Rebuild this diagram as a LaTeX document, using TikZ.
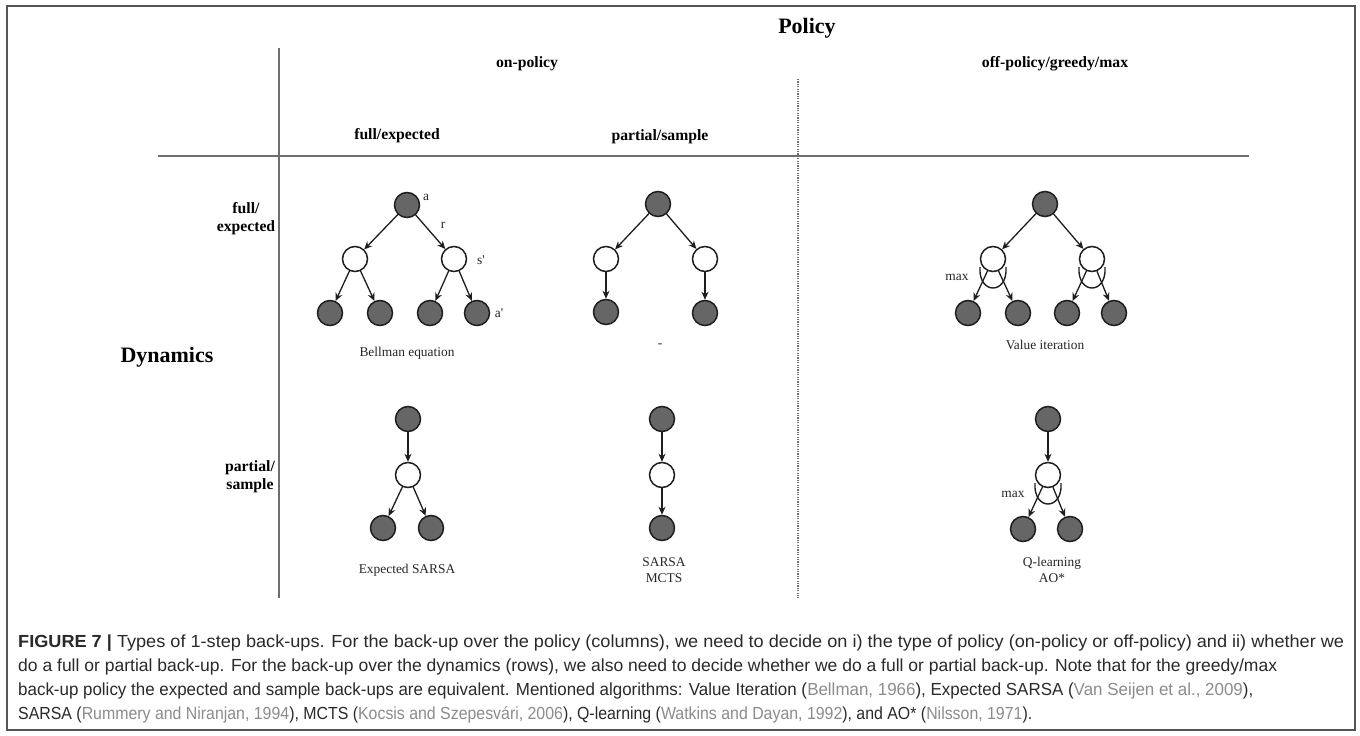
\documentclass[tikz,border=0pt]{standalone}
\usepackage{fontspec}
\usepackage{graphicx}
\setmainfont{Liberation Serif}
\newfontfamily\capfont{Liberation Sans}
\usetikzlibrary{arrows.meta,calc}
\definecolor{nodefill}{HTML}{666666}
\definecolor{nodeline}{HTML}{1E1E1E}
\definecolor{gridgray}{HTML}{6E6E6E}
\definecolor{bordergray}{HTML}{555555}
\definecolor{captxt}{HTML}{2A2A2A}
\definecolor{citegray}{HTML}{8C8C8C}
\newcommand{\citg}[1]{\textcolor{citegray}{#1}}
\newcommand{\maxarcat}[1]{\draw[maxarc] ($(#1.center)+(-13,8)$) .. controls ($(#1.center)+(-15,36)$) and ($(#1.center)+(15,36)$) .. ($(#1.center)+(13,8)$);}
\begin{document}
\begin{tikzpicture}[x=1pt,y=-1pt,
  snode/.style={circle, minimum size=25pt, inner sep=0pt, line width=1.5pt, draw=nodeline, fill=nodefill},
  wnode/.style={circle, minimum size=25pt, inner sep=0pt, line width=1.5pt, draw=nodeline, fill=white},
  edge/.style={line width=1.3pt, draw=nodeline, -{Stealth[length=8pt,width=7pt]}},
  maxarc/.style={line width=1.4pt, draw=nodeline},
  hdr/.style={inner sep=0pt, font=\bfseries\fontsize{15.7}{18}\selectfont, text=black},
  bighdr/.style={inner sep=0pt, font=\bfseries\fontsize{22}{24}\selectfont, text=black},
  lab/.style={inner sep=0pt, font=\fontsize{13.4}{15.5}\selectfont, text=black!85, align=center},
  gridline/.style={line width=2pt, draw=gridgray},
  capline/.style={anchor=base west, inner sep=0pt, text=captxt}
]
\useasboundingbox (0,0) rectangle (1360,736);
\fill[white] (0,0) rectangle (1360,736);
\draw[line width=1.5pt, draw=bordergray] (7,6) rectangle (1355,730);

% grid
\draw[gridline] (279,48) -- (279,598);
\draw[gridline] (158,156) -- (1249,156);
\draw[line width=1.5pt, draw=gridgray, dash pattern=on 1.2pt off 1.2pt] (798,79) -- (798,598);

% headers
\node[bighdr] (policy) at (807,28) {Policy};
\node[hdr] (onpol) at (527,64) {on-policy};
\node[hdr] (offpol) at (1055,64) {off-policy/greedy/max};
\node[hdr] (colfull) at (397,136) {full/expected};
\node[hdr] (colpart) at (660,137) {partial/sample};
\node[bighdr] (dyn) at (167,357) {Dynamics};
\node[hdr, align=center] (rowfull) at (246,219) {full/\\expected};
\node[hdr, align=center] (rowpart) at (250,477) {partial/\\sample};

% Tree 1: Bellman equation
\node[snode] (t1r) at (407,205) {};
\node[wnode] (t1m1) at (355,259) {};
\node[wnode] (t1m2) at (454,259) {};
\node[snode] (t1l1) at (330,313) {};
\node[snode] (t1l2) at (380,313) {};
\node[snode] (t1l3) at (430,313) {};
\node[snode] (t1l4) at (477,313) {};
\draw[edge] (t1r) -- (t1m1);
\draw[edge] (t1r) -- (t1m2);
\draw[edge] (t1m1) -- (t1l1);
\draw[edge] (t1m1) -- (t1l2);
\draw[edge] (t1m2) -- (t1l3);
\draw[edge] (t1m2) -- (t1l4);
\node[lab] (la) at (426,197) {a};
\node[lab] (lr) at (443,225) {r};
\node[lab] (ls) at (481,260) {s\textquotesingle};
\node[lab] (la2) at (499,313) {a\textquotesingle};
\node[lab] (t1cap) at (407,353) {Bellman equation};

% Tree 2
\node[snode] (t2r) at (658,204) {};
\node[wnode] (t2m1) at (606,259) {};
\node[wnode] (t2m2) at (705,259) {};
\node[snode] (t2l1) at (606,312) {};
\node[snode] (t2l2) at (705,313) {};
\draw[edge] (t2r) -- (t2m1);
\draw[edge] (t2r) -- (t2m2);
\draw[edge] (t2m1) -- (t2l1);
\draw[edge] (t2m2) -- (t2l2);
\node[lab] (t2cap) at (660,346) {-};

% Tree 3: Value iteration
\node[snode] (t3r) at (1045,204) {};
\node[wnode] (t3m1) at (993,259) {};
\node[wnode] (t3m2) at (1092,259) {};
\node[snode] (t3l1) at (968,313) {};
\node[snode] (t3l2) at (1018,313) {};
\node[snode] (t3l3) at (1067,313) {};
\node[snode] (t3l4) at (1114,313) {};
\draw[edge] (t3r) -- (t3m1);
\draw[edge] (t3r) -- (t3m2);
\draw[edge] (t3m1) -- (t3l1);
\draw[edge] (t3m1) -- (t3l2);
\draw[edge] (t3m2) -- (t3l3);
\draw[edge] (t3m2) -- (t3l4);
\maxarcat{t3m1}
\maxarcat{t3m2}
\node[lab] (t3max) at (957,277) {max};
\node[lab] (t3cap) at (1045,345) {Value iteration};

% Tree 4: Expected SARSA
\node[snode] (t4r) at (408,419) {};
\node[wnode] (t4m) at (408,475) {};
\node[snode] (t4l1) at (383,528) {};
\node[snode] (t4l2) at (431,528) {};
\draw[edge] (t4r) -- (t4m);
\draw[edge] (t4m) -- (t4l1);
\draw[edge] (t4m) -- (t4l2);
\node[lab] (t4cap) at (407,570) {Expected SARSA};

% Tree 5: SARSA / MCTS
\node[snode] (t5r) at (662,419) {};
\node[wnode] (t5m) at (662,475) {};
\node[snode] (t5l) at (662,528) {};
\draw[edge] (t5r) -- (t5m);
\draw[edge] (t5m) -- (t5l);
\node[lab] (t5cap) at (664,570) {SARSA\\MCTS};

% Tree 6: Q-learning / AO*
\node[snode] (t6r) at (1048,419) {};
\node[wnode] (t6m) at (1048,475) {};
\node[snode] (t6l1) at (1023,529) {};
\node[snode] (t6l2) at (1070,529) {};
\draw[edge] (t6r) -- (t6m);
\draw[edge] (t6m) -- (t6l1);
\draw[edge] (t6m) -- (t6l2);
\maxarcat{t6m}
\node[lab] (t6max) at (1013,494) {max};
\node[lab] (t6cap) at (1052,570) {Q-learning\\AO*};

% caption
\node[capline] (cap1) at (18,647) {\resizebox{1326pt}{\height}{\capfont\fontsize{17.5}{20}\selectfont\textbf{FIGURE 7 |} Types of 1-step back-ups. For the back-up over the policy (columns), we need to decide on i) the type of policy (on-policy or off-policy) and ii) whether we}};
\node[capline] (cap2) at (18,671) {\resizebox{1259pt}{\height}{\capfont\fontsize{17.5}{20}\selectfont do a full or partial back-up. For the back-up over the dynamics (rows), we also need to decide whether we do a full or partial back-up. Note that for the greedy/max}};
\node[capline] (cap3) at (18,695) {\resizebox{1235pt}{\height}{\capfont\fontsize{17.5}{20}\selectfont back-up policy the expected and sample back-ups are equivalent. Mentioned algorithms: Value Iteration (\citg{Bellman, 1966}), Expected SARSA (\citg{Van Seijen et al., 2009}),}};
\node[capline] (cap4) at (18,719) {\resizebox{1014pt}{\height}{\capfont\fontsize{17.5}{20}\selectfont SARSA (\citg{Rummery and Niranjan, 1994}), MCTS (\citg{Kocsis and Szepesvári, 2006}), Q-learning (\citg{Watkins and Dayan, 1992}), and AO* (\citg{Nilsson, 1971}).}};
\end{tikzpicture}
\end{document}
